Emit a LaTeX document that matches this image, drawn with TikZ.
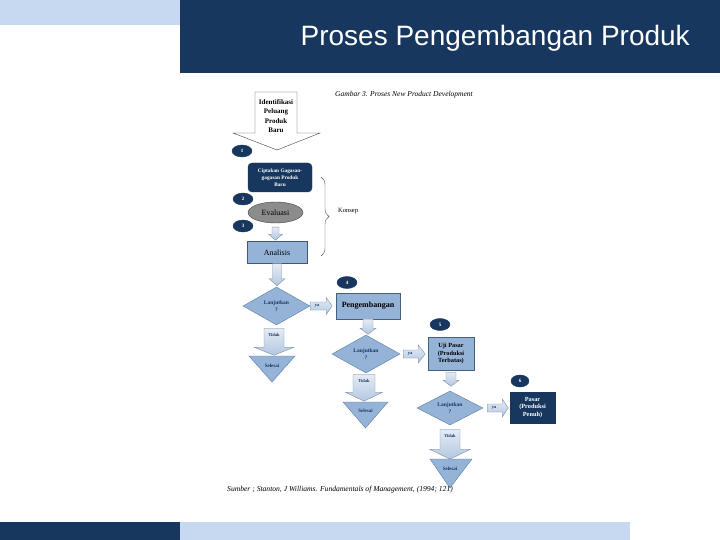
\documentclass[tikz,border=0pt]{standalone}
\usepackage{fontspec}
\setmainfont{Liberation Serif}
\newfontfamily\titlefont{Liberation Sans}
\usepackage{tikz}
\usetikzlibrary{positioning,shapes.geometric,decorations.pathreplacing}
\definecolor{navy}{HTML}{17375E}
\definecolor{hdrlight}{HTML}{C6D9F1}
\definecolor{midblue}{HTML}{95B3D7}
\definecolor{edgeblue}{HTML}{5A7CA6}
\definecolor{arrlight}{HTML}{E4ECF6}
\definecolor{arrdark}{HTML}{B3C7E0}
\definecolor{arredge}{HTML}{7F8FA6}

\begin{document}
\begin{tikzpicture}[
    x=1pt, y=-1pt,
    num/.style={ellipse, fill=navy, draw=navy, minimum width=20pt, minimum height=12pt, inner sep=0pt, text=white, font=\fontsize{5}{6}\selectfont\bfseries},
    box/.style={draw=edgeblue, fill=midblue, inner sep=0pt, align=center, font=\fontsize{6.3}{7.8}\selectfont\bfseries},
    dbox/.style={box, draw=navy, fill=navy, text=white},
    dec/.style={diamond, aspect=1.8, draw=edgeblue, fill=midblue, inner sep=0pt, align=center, text=navy, font=\fontsize{5.5}{6.5}\selectfont\bfseries},
    tri/.style={draw=edgeblue, fill=midblue},
    blk/.style={draw=arredge, top color=arrlight, bottom color=arrdark},
    lbl/.style={inner sep=0pt, text=navy, font=\fontsize{4.5}{5}\selectfont\bfseries},
    sel/.style={inner sep=0pt, text=navy, font=\fontsize{5}{6}\selectfont\bfseries},
    pics/dnarr/.style args={#1/#2/#3/#4}{code={\path[blk] (-#1,0) -- (#1,0) -- (#1,#3) -- (#2,#3) -- (0,#4) -- (-#2,#3) -- (-#1,#3) -- cycle;}},
    pics/rtarr/.style args={#1/#2/#3/#4}{code={\path[blk] (0,-#1) -- (#3,-#1) -- (#3,-#2) -- (#4,0) -- (#3,#2) -- (#3,#1) -- (0,#1) -- cycle;}}
]
\useasboundingbox (0,0) rectangle (720,540);

% --- Header and footer bands ---
\fill[hdrlight] (0,0) rectangle (180,25);
\fill[navy] (180,0) rectangle (720,73);
\node[anchor=base east, inner sep=0pt, text=white, font=\titlefont\fontsize{28}{30}\selectfont] (title) at (690,46) {Proses Pengembangan Produk};
\fill[navy] (0,522) rectangle (180,540);
\fill[hdrlight] (180,522) rectangle (630,540);

\node[anchor=west, inner sep=0pt, font=\fontsize{7.5}{9}\selectfont\itshape] (cap) at (335,95) {Gambar 3. Proses New Product Development};

% --- Concept stage ---
\draw[draw=black!75, fill=white] (255,92) -- (297,92) -- (297,133) -- (320,133) -- (277,150) -- (233,133) -- (255,133) -- cycle;
\node[align=center, inner sep=0pt, font=\fontsize{7}{9.3}\selectfont\bfseries] (idf) at (276,116) {Identifikasi\\Peluang\\Produk\\Baru};

\node[num] (n1) at (242,151) {1};
\node[dbox, rounded corners=4pt, minimum width=64pt, minimum height=29pt, font=\fontsize{5.3}{7}\selectfont\bfseries] (idea) at (280,177.5) {Ciptakan Gagasan-\\gagasan Produk\\Baru};
\node[num] (n2) at (243,199) {2};
\node[ellipse, draw=black!75, fill=black!45, minimum width=55pt, minimum height=21pt, inner sep=0pt, font=\fontsize{8}{9}\selectfont] (eval) at (275.5,212.5) {Evaluasi};
\node[num] (n3) at (243,226) {3};
\pic at ([yshift=-4pt]eval.south) {dnarr={3.5/7/7/13}};
\node[box, draw=edgeblue!70!black, minimum width=60pt, minimum height=22pt, font=\fontsize{8}{9}\selectfont] (ana) at (277,252.5) {Analisis};

\draw[black!70, decorate, decoration={brace, amplitude=8pt}] (321,177) -- (321,256) coordinate[midway] (bmid);
\node[anchor=west, inner sep=0pt, font=\fontsize{6.5}{8}\selectfont] (kon) at (338,211) {Konsep};

% --- First decision ---
\pic at (ana.south) {dnarr={4.5/8/15/22}};
\node[dec, minimum width=67pt, minimum height=38pt] (d1) at (276.5,306) {Lanjutkan\\?};
\pic at (d1.east) {rtarr={4/8.5/16/22}};
\node[lbl] (ya1) at ([xshift=7pt]d1.east) {ya};
\pic at ([xshift=-2.5pt, yshift=-3pt]d1.south) {dnarr={10/20/19/27}};
\node[lbl] (td1) at ([xshift=-2.5pt, yshift=-10pt]d1.south) {Tidak};
\draw[tri] (249,356) -- (295,356) -- (272,382) -- cycle;
\node[sel] (sel1) at (272,366) {Selesai};

% --- Development column ---
\node[num] (n4) at (347,282.5) {4};
\node[box, draw=navy!80, minimum width=64pt, minimum height=26pt, font=\fontsize{8}{9}\selectfont\bfseries] (dev) at (368,306) {Pengembangan};
\pic at (dev.south) {dnarr={5/8/9/15}};
\node[dec, minimum width=68pt, minimum height=38pt] (d2) at (366,354) {Lanjutkan\\?};
\pic at ([xshift=3pt]d2.east) {rtarr={4/9/15/22}};
\node[lbl] (ya2) at ([xshift=10pt]d2.east) {ya};
\pic at ([xshift=-2pt, yshift=-1pt]d2.south) {dnarr={11/18.5/18/27}};
\node[lbl] (td2) at ([xshift=-2pt, yshift=-8pt]d2.south) {Tidak};
\draw[tri] (343,402) -- (388,402) -- (365.5,428) -- cycle;
\node[sel] (sel2) at (365.5,411) {Selesai};

% --- Test market column ---
\node[num] (n5) at (440,324.5) {5};
\node[box, draw=navy!80, minimum width=46pt, minimum height=33pt] (uji) at (451,353.5) {Uji Pasar\\(Produksi\\Terbatas)};
\pic at ([yshift=-2pt]uji.south) {dnarr={5/8/8/14}};
\node[dec, minimum width=66pt, minimum height=34pt] (d3) at (450,408) {Lanjutkan\\?};
\pic at ([xshift=4pt]d3.east) {rtarr={4/9/15/21}};
\node[lbl] (ya3) at ([xshift=11pt]d3.east) {ya};
\pic at ([yshift=-4pt]d3.south) {dnarr={10/20.5/20/30}};
\node[lbl] (td3) at ([yshift=-11pt]d3.south) {Tidak};
\draw[tri] (430,459) -- (472,459) -- (450,488) -- cycle;
\node[sel] (sel3) at (450,469) {Selesai};

% --- Market column ---
\node[num, minimum width=18pt] (n6) at (520,381) {6};
\node[dbox, minimum width=45pt, minimum height=31pt] (pas) at (532.5,407.5) {Pasar\\(Produksi\\Penuh)};

\node[anchor=west, inner sep=0pt, font=\fontsize{7.6}{9}\selectfont\itshape] (src) at (227,490) {Sumber ; Stanton, J Williams. Fundamentals of Management, (1994; 121)};
\end{tikzpicture}
\end{document}
